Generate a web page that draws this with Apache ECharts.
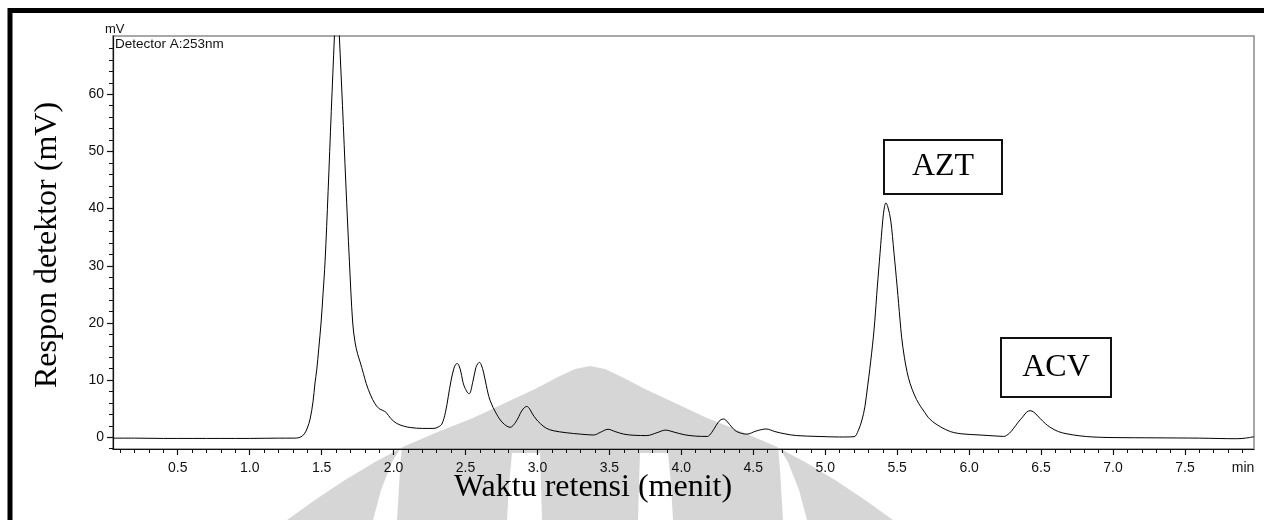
<!DOCTYPE html>
<html>
<head>
<meta charset="utf-8">
<script src="https://cdn.jsdelivr.net/npm/echarts@6/dist/echarts.min.js"></script>
<style>
  html, body { margin: 0; padding: 0; background: #fff; }
  #chart { width: 1264px; height: 520px; }
</style>
</head>
<body>
<div id="chart"></div>
<script>
// Chromatogram, detector A at 253 nm: retention time (min) and detector response (mV)
const retentionTime = [
  0.05, 0.20, 0.40, 0.60, 0.80, 1.00, 1.20, 1.30, 1.35, 1.38,
  1.40, 1.42, 1.44, 1.454, 1.466, 1.48, 1.496, 1.51, 1.524, 1.545,
  1.567, 1.589, 1.598, 1.606, 1.614, 1.623, 1.645, 1.668, 1.693, 1.716,
  1.733, 1.750, 1.767, 1.79, 1.81, 1.84, 1.87, 1.90, 1.925, 1.95,
  1.98, 2.02, 2.07, 2.12, 2.20, 2.28, 2.31, 2.335, 2.36, 2.38,
  2.40, 2.42, 2.432, 2.443, 2.455, 2.468, 2.49, 2.525, 2.55, 2.572,
  2.586, 2.597, 2.609, 2.625, 2.645, 2.67, 2.717, 2.76, 2.81, 2.85,
  2.89, 2.912, 2.926, 2.942, 2.965, 2.99, 3.02, 3.06, 3.11, 3.20,
  3.30, 3.39, 3.44, 3.49, 3.54, 3.60, 3.67, 3.76, 3.83, 3.89,
  3.95, 4.02, 4.10, 4.18, 4.21, 4.24, 4.27, 4.295, 4.32, 4.35,
  4.385, 4.455, 4.52, 4.59, 4.65, 4.72, 4.80, 4.95, 5.10, 5.20,
  5.23, 5.255, 5.276, 5.295, 5.31, 5.322, 5.334, 5.344, 5.362, 5.381,
  5.40, 5.412, 5.422, 5.435, 5.455, 5.478, 5.50, 5.52, 5.531, 5.55,
  5.57, 5.59, 5.62, 5.65, 5.68, 5.73, 5.80, 5.87, 5.95, 6.075,
  6.20, 6.24, 6.28, 6.31, 6.34, 6.377, 6.40, 6.423, 6.45, 6.493,
  6.53, 6.563, 6.62, 6.68, 6.77, 6.86, 7.00, 7.30, 7.60, 7.86,
  7.92, 7.98
];
const responseMv = [
  -0.15, -0.15, -0.2, -0.2, -0.2, -0.2, -0.15, -0.15, 0.0, 0.6,
  1.6, 3.2, 6.2, 9.5, 11.8, 15.5, 20, 25.2, 30.8, 43,
  57, 70.2, 75, 77, 75, 70.2, 58, 44.5, 30.8, 20,
  16.5, 14.6, 13.2, 11.2, 9.4, 7.4, 5.9, 5.0, 4.7, 4.3,
  3.3, 2.45, 1.95, 1.7, 1.55, 1.55, 1.8, 2.3, 4.3, 7.1,
  10, 12.1, 12.75, 12.9, 12.5, 11.4, 9.0, 7.6, 9.6, 12.2,
  12.9, 13.1, 12.7, 11.4, 9.0, 6.5, 4.0, 2.5, 1.75, 2.7,
  4.6, 5.25, 5.4, 5.1, 4.1, 3.2, 2.4, 1.6, 1.15, 0.8,
  0.55, 0.4, 0.9, 1.4, 1.0, 0.55, 0.35, 0.3, 0.8, 1.25,
  0.9, 0.45, 0.2, 0.15, 0.8, 2.0, 3.0, 3.2, 2.7, 1.8,
  1.0, 0.55, 1.1, 1.45, 1.0, 0.6, 0.3, 0.15, 0.05, 0.1,
  1.2, 3.0, 5.4, 9, 12.0, 14.6, 17.4, 20.2, 26.3, 32.2,
  38, 40.4, 41, 40.3, 38, 32.2, 26.3, 20.5, 17.5, 14,
  11.3, 9.4, 7.4, 5.9, 4.77, 3.1, 1.85, 1.0, 0.6, 0.4,
  0.2, 0.15, 0.7, 1.6, 2.6, 3.7, 4.4, 4.65, 4.4, 3.3,
  2.4, 1.75, 1.0, 0.6, 0.25, 0.05, -0.05, -0.1, -0.15, -0.25,
  -0.15, 0.1
];

// Axis ticks
const xTickValues = [0.5, 1.0, 1.5, 2.0, 2.5, 3.0, 3.5, 4.0, 4.5, 5.0, 5.5, 6.0, 6.5, 7.0, 7.5];
const xTickLabels = ['0.5', '1.0', '1.5', '2.0', '2.5', '3.0', '3.5', '4.0', '4.5', '5.0', '5.5', '6.0', '6.5', '7.0', '7.5'];
const yTickValues = [0, 10, 20, 30, 40, 50, 60];
const yTickLabels = ['0', '10', '20', '30', '40', '50', '60'];

// Peak labels
const peakNames = ['AZT', 'ACV'];

const X_MIN = 0.05, X_MAX = 7.98, Y_MIN = -2.05, Y_MAX = 70.2;

// minor ticks: every 0.1 min and every 2 mV between the labelled ones
const xMinor = [];
for (let i = 1; i <= 79; i++) { if (i % 5 !== 0) xMinor.push(+(i / 10).toFixed(1)); }
const yMinor = [];
for (let v = -2; v <= 70; v += 2) { if (v % 10 !== 0) yMinor.push(v); }

const series = retentionTime.map((t, i) => [t, responseMv[i]]);

const sans = '"Liberation Sans", Arial, sans-serif';
const serif = '"Liberation Serif", "Times New Roman", serif';

// background emblem: dome with four arched openings at its foot
const WM = '#d6d6d6';
const dome = [
  [287, 520], [315, 500], [345, 480], [375, 462], [405, 446], [440, 431], [473, 418],
  [505, 403], [535, 389], [558, 377], [575, 369], [590, 366], [605, 369], [622, 377],
  [645, 389], [675, 403], [707, 418], [740, 431], [775, 446], [805, 462], [835, 480],
  [865, 500], [893, 520]
];
const openings = [
  [[373, 520], [381, 490], [392, 462], [402, 446], [400, 470], [397, 520]],
  [[507, 520], [509, 485], [512, 453], [540, 453], [541, 485], [542, 520]],
  [[638, 520], [639, 485], [640, 453], [668, 453], [671, 485], [673, 520]],
  [[783, 520], [780, 470], [778, 446], [788, 462], [799, 490], [807, 520]]
];

const graphic = [
  { type: 'polygon', z: -2, silent: true, shape: { points: dome }, style: { fill: WM } }
].concat(openings.map(p => ({
  type: 'polygon', z: -1, silent: true, shape: { points: p }, style: { fill: '#fff' }
}))).concat([
  // heavy page frame
  { type: 'rect', z: 20, shape: { x: 10, y: 10.5, width: 1400, height: 700 },
    style: { fill: 'none', stroke: '#000', lineWidth: 5 } },
  // unit and detector captions
  { type: 'text', z: 20, x: 105, y: 29.5,
    style: { text: 'mV', font: '13px ' + sans, fill: '#111', align: 'left', verticalAlign: 'middle', textAlign: 'left', textVerticalAlign: 'middle' } },
  { type: 'text', z: 20, x: 115, y: 44,
    style: { text: 'Detector A:253nm', font: '13.5px ' + sans, fill: '#111', align: 'left', verticalAlign: 'middle', textAlign: 'left', textVerticalAlign: 'middle' } },
  { type: 'text', z: 20, x: 1243, y: 468,
    style: { text: 'min', font: '14px ' + sans, fill: '#111', align: 'center', verticalAlign: 'middle', textAlign: 'center', textVerticalAlign: 'middle' } },
  // axis titles
  { type: 'text', z: 20, x: 593, y: 488,
    style: { text: 'Waktu retensi (menit)', font: '32px ' + serif, fill: '#000', align: 'center', verticalAlign: 'middle', textAlign: 'center', textVerticalAlign: 'middle' } },
  { type: 'text', z: 20, x: 48, y: 245, rotation: Math.PI / 2,
    style: { text: 'Respon detektor (mV)', font: '32px ' + serif, fill: '#000', align: 'center', verticalAlign: 'middle', textAlign: 'center', textVerticalAlign: 'middle' } },
  // peak name boxes
  { type: 'rect', z: 20, shape: { x: 884, y: 140, width: 118, height: 54 },
    style: { fill: '#fff', stroke: '#111', lineWidth: 2 } },
  { type: 'text', z: 21, x: 943, y: 167,
    style: { text: peakNames[0], font: '32px ' + serif, fill: '#000', align: 'center', verticalAlign: 'middle', textAlign: 'center', textVerticalAlign: 'middle' } },
  { type: 'rect', z: 20, shape: { x: 1001, y: 338, width: 110, height: 59 },
    style: { fill: '#fff', stroke: '#111', lineWidth: 2 } },
  { type: 'text', z: 21, x: 1056, y: 368,
    style: { text: peakNames[1], font: '32px ' + serif, fill: '#000', align: 'center', verticalAlign: 'middle', textAlign: 'center', textVerticalAlign: 'middle' } }
]);

const axisLineStyle = { color: '#111', width: 1.2 };

const option = {
  animation: false,
  backgroundColor: '#fff',
  grid: { left: 113, right: 10, top: 36, bottom: 71, show: true, borderColor: '#8c8c8c', borderWidth: 1.5 },
  xAxis: [
    {
      type: 'value', min: X_MIN, max: X_MAX, position: 'bottom',
      axisLine: { show: true, onZero: false, lineStyle: axisLineStyle },
      axisTick: { show: true, customValues: xTickValues, length: 6, lineStyle: { color: '#111', width: 1.2 } },
      axisLabel: {
        show: true, customValues: xTickValues, margin: 12,
        formatter: v => xTickLabels[xTickValues.findIndex(t => Math.abs(t - v) < 1e-6)] ?? '',
        fontFamily: sans, fontSize: 14, color: '#111'
      },
      splitLine: { show: false }
    },
    {
      type: 'value', min: X_MIN, max: X_MAX, position: 'bottom',
      axisLine: { show: false, onZero: false },
      axisTick: { show: true, customValues: xMinor, length: 4, lineStyle: { color: '#111', width: 1 } },
      axisLabel: { show: false },
      splitLine: { show: false }
    }
  ],
  yAxis: [
    {
      type: 'value', min: Y_MIN, max: Y_MAX, position: 'left',
      axisLine: { show: true, onZero: false, lineStyle: axisLineStyle },
      axisTick: { show: true, customValues: yTickValues, length: 6, lineStyle: { color: '#111', width: 1.2 } },
      axisLabel: {
        show: true, customValues: yTickValues, margin: 9,
        formatter: v => yTickLabels[yTickValues.indexOf(Math.round(v))] ?? '',
        fontFamily: sans, fontSize: 14, color: '#111'
      },
      splitLine: { show: false }
    },
    {
      type: 'value', min: Y_MIN, max: Y_MAX, position: 'left',
      axisLine: { show: false, onZero: false },
      axisTick: { show: true, customValues: yMinor, length: 4, lineStyle: { color: '#111', width: 1 } },
      axisLabel: { show: false },
      splitLine: { show: false }
    }
  ],
  series: [{
    type: 'line',
    xAxisIndex: 0, yAxisIndex: 0,
    data: series,
    symbol: 'none',
    smooth: 0.35,
    clip: true,
    lineStyle: { color: '#000', width: 1 },
    z: 5
  }],
  graphic: graphic
};

const chart = echarts.init(document.getElementById('chart'), null, { renderer: 'canvas' });
chart.setOption(option);
</script>
</body>
</html>
